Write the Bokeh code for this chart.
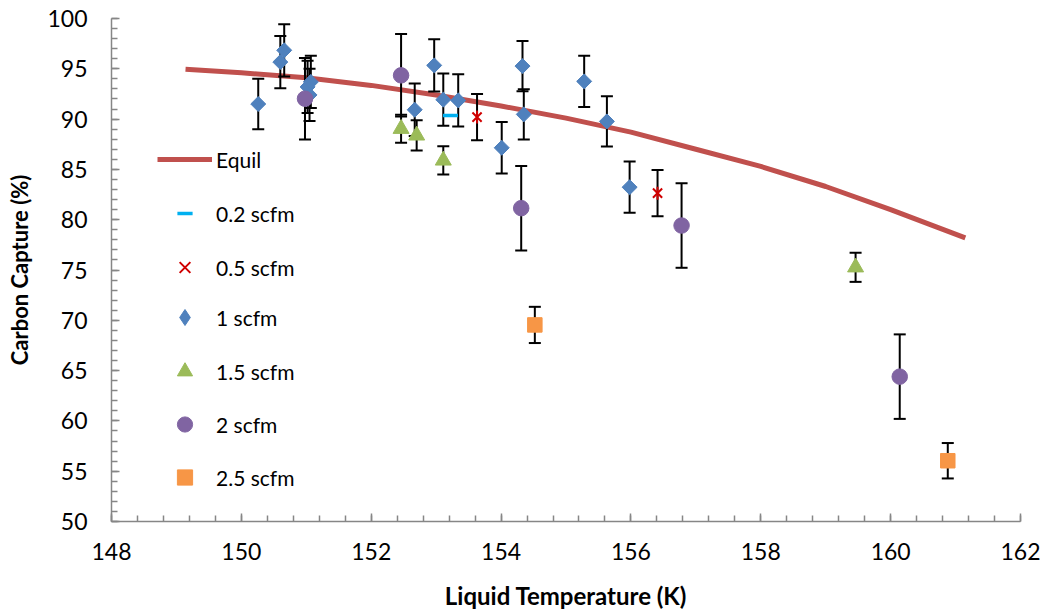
import numpy as np
from bokeh.plotting import figure
from bokeh.models import Range1d, FixedTicker, Legend, LegendItem
from bokeh.embed import file_html
from bokeh.resources import INLINE

# ---- data ----
equil_t = [149.14, 150.0, 151.0, 152.0, 153.0, 154.0, 155.0, 156.0, 157.0, 158.0, 159.0, 160.0, 161.15]
equil_v = [94.95, 94.6, 94.1, 93.35, 92.4, 91.3, 90.1, 88.7, 87.0, 85.3, 83.3, 81.0, 78.2]

s02_t = [153.22]
s02_v = [90.37]

s05_t = [153.63, 156.41]
s05_v = [90.2, 82.64]
s05_e = [2.3, 2.3]

s1_t = [150.26, 150.60, 150.66, 151.02, 151.07, 151.05, 152.67, 152.97, 153.11, 153.34,
        154.01, 154.33, 154.35, 155.28, 155.63, 155.98]
s1_v = [91.5, 95.67, 96.84, 93.2, 93.7, 92.4, 90.93, 95.34, 91.93, 91.86,
        87.15, 95.27, 90.47, 93.75, 89.77, 83.23]
s1_e = [2.5, 2.6, 2.6, 2.6, 2.6, 2.6, 2.6, 2.6, 2.6, 2.6,
        2.55, 2.5, 2.5, 2.55, 2.5, 2.55]

s15_t = [152.46, 152.70, 153.11, 159.46]
s15_v = [89.04, 88.38, 85.89, 75.27]
s15_e = [1.4, 1.5, 1.4, 1.45]

s2_t = [150.98, 152.46, 154.31, 156.78, 160.14]
s2_v = [92.03, 94.35, 81.15, 79.42, 64.4]
s2_e = [4.05, 4.1, 4.2, 4.2, 4.2]

s25_t = [154.52, 160.88]
s25_v = [69.54, 56.04]
s25_e = [1.8, 1.76]

x_ticks = [148, 150, 152, 154, 156, 158, 160, 162]
y_ticks = [50, 55, 60, 65, 70, 75, 80, 85, 90, 95, 100]

FONT = "Lato"

p = figure(width=1047, height=612, output_backend="svg", toolbar_location=None,
           x_range=Range1d(148, 162), y_range=Range1d(50, 100),
           min_border_left=111, min_border_right=27, min_border_top=18, min_border_bottom=91)
p.outline_line_color = None
p.xgrid.visible = False
p.ygrid.visible = False
p.background_fill_color = "white"
p.border_fill_color = "white"

for ax in (p.xaxis[0], p.yaxis[0]):
    ax.axis_line_color = "#868686"
    ax.axis_line_width = 1.5
    ax.major_tick_line_color = "#868686"
    ax.minor_tick_line_color = "#868686"
    ax.major_tick_line_width = 1.5
    ax.minor_tick_line_width = 1.5
    ax.major_tick_in = 8
    ax.major_tick_out = 0
    ax.minor_tick_in = 6
    ax.minor_tick_out = 0
    ax.major_label_text_font = FONT
    ax.major_label_text_font_size = "23px"
    ax.major_label_text_color = "black"
    ax.axis_label_text_font = FONT
    ax.axis_label_text_font_style = "bold"
    ax.axis_label_text_color = "black"

p.xaxis.axis_label_text_font_size = "24px"
p.yaxis.axis_label_text_font_size = "22px"
p.xaxis.ticker = FixedTicker(ticks=x_ticks,
                             minor_ticks=[148 + 0.4 * i for i in range(36)])
p.yaxis.ticker = FixedTicker(ticks=y_ticks, minor_ticks=list(range(50, 101)))
p.xaxis.axis_label = "Liquid Temperature (K)"
p.yaxis.axis_label = "Carbon Capture (%)"
p.xaxis.major_label_standoff = 21
p.yaxis.major_label_standoff = 24
p.xaxis.axis_label_standoff = 18
p.yaxis.axis_label_standoff = 11


def errbars(t, v, e):
    lo = [a - b for a, b in zip(v, e)]
    hi = [a + b for a, b in zip(v, e)]
    p.segment(x0=t, y0=lo, x1=t, y1=hi, line_color="black", line_width=2)
    p.scatter(x=t, y=lo, marker="dash", size=12, line_color="black", line_width=2)
    p.scatter(x=t, y=hi, marker="dash", size=12, line_color="black", line_width=2)


r_eq = p.line(equil_t, equil_v, line_color="#C0504D", line_width=5)

errbars(s05_t, s05_v, s05_e)
errbars(s1_t, s1_v, s1_e)
errbars(s15_t, s15_v, s15_e)
errbars(s2_t, s2_v, s2_e)
errbars(s25_t, s25_v, s25_e)

RED = "#D00000"
BLUE = "#4F81BD"
r02 = p.scatter(s02_t, s02_v, marker="dash", size=15, line_color="#00B0F0", line_width=3.5)
r05a = p.scatter(s05_t, s05_v, marker="x", size=13, line_color=RED, line_width=2)
r05b = p.scatter(s05_t, s05_v, marker="dash", angle=np.pi / 2, size=13,
                 line_color=RED, line_width=2)
# diamond glyph used for the legend symbol (legend ignores marker angle);
# it sits fully under the rotated squares below
r1_leg = p.scatter(s1_t, s1_v, marker="diamond", size=14,
                   fill_color=BLUE, line_color=BLUE)
r1 = p.scatter(s1_t, s1_v, marker="square", angle=np.pi / 4, size=10.6,
               fill_color=BLUE, line_color=BLUE)
r15 = p.scatter(s15_t, s15_v, marker="triangle", size=16,
                fill_color="#9BBB59", line_color="#9BBB59")
r2 = p.scatter(s2_t, s2_v, marker="circle", size=15.5,
               fill_color="#8064A2", line_color="#8064A2")
r25 = p.scatter(s25_t, s25_v, marker="square", size=14.5,
                fill_color="#F79646", line_color="#F79646")


def make_legend(items, loc, gh, spacing):
    lg = Legend(items=items, location=loc)
    lg.background_fill_alpha = 0
    lg.border_line_color = None
    lg.padding = 0
    lg.margin = 0
    lg.spacing = spacing
    lg.glyph_width = 55
    lg.glyph_height = gh
    lg.label_height = 20
    lg.label_standoff = 4
    lg.label_text_font = FONT
    lg.label_text_font_size = "21px"
    lg.label_text_color = "black"
    p.add_layout(lg, "center")


make_legend([
    LegendItem(label="Equil", renderers=[r_eq]),
    LegendItem(label="0.2 scfm", renderers=[r02]),
    LegendItem(label="0.5 scfm", renderers=[r05a]),
], (46, 235), 38, 16)
make_legend([
    LegendItem(label="1 scfm", renderers=[r1_leg]),
], (46, 184), 40, 0)
make_legend([
    LegendItem(label="1.5 scfm", renderers=[r15]),
    LegendItem(label="2 scfm", renderers=[r2]),
    LegendItem(label="2.5 scfm", renderers=[r25]),
], (46, 25), 38, 15)

open("out.html", "w").write(file_html(p, INLINE))
